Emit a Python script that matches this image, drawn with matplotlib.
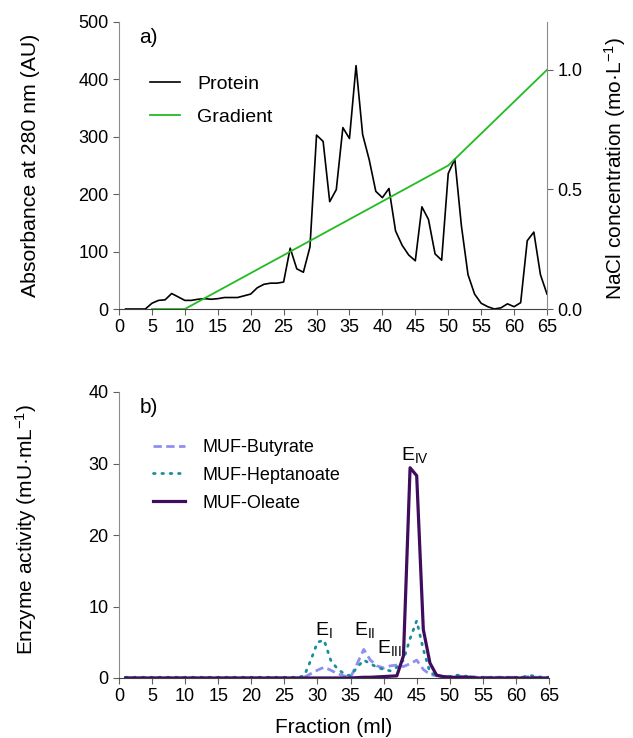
import matplotlib
matplotlib.use("Agg")
import matplotlib.pyplot as plt
import numpy as np

plt.rcParams["font.family"] = ["Liberation Sans", "DejaVu Sans"]
plt.rcParams["mathtext.default"] = "regular"

# ── Data ─────────────────────────────────────────────────────
fraction = np.arange(1, 66)

protein = [0, 0, 0, 0, 10, 15, 16, 27, 21, 15,
           15, 17, 18, 17, 18, 20, 20, 20, 23, 26,
           37, 43, 45, 45, 47, 106, 70, 64, 108, 303,
           292, 187, 208, 316, 297, 424, 304, 260, 205, 194,
           210, 136, 111, 94, 84, 178, 156, 96, 85, 236,
           261, 145, 60, 26, 10, 4, 0, 2, 9, 4,
           11, 119, 134, 60, 26]

grad_x = [5, 10, 50, 65]
grad_y = [0.0, 0.0, 0.6, 1.0]

butyrate = [0] * 27 + [0.1, 0.6, 1.1, 1.5, 1.1, 0.6, 0.3, 0.1,
                       2.0, 4.0, 2.5, 1.7, 1.4, 1.7, 1.8, 1.6, 2.0, 2.5,
                       1.2, 0.5, 0.3, 0.2, 0.2, 0.3, 0.2, 0.2, 0.1, 0.1,
                       0.1, 0.1, 0.1, 0.1, 0.1, 0.1, 0.2, 0.1, 0.1, 0.1]
heptanoate = [0.1] * 27 + [0.3, 2.5, 5.0, 5.3, 2.5, 1.3, 0.6, 0.3,
                           1.5, 2.5, 2.0, 1.5, 1.2, 1.0, 1.5, 2.5, 5.5, 8.0,
                           4.0, 0.8, 0.3, 0.2, 0.2, 0.4, 0.3, 0.2, 0.1, 0.1,
                           0.1, 0.1, 0.1, 0.1, 0.1, 0.1, 0.4, 0.2, 0.1, 0.1]
oleate = [0] * 35 + [0.05, 0.1, 0.1, 0.15, 0.2, 0.25, 0.3, 3.1, 29.4, 28.3,
                     6.8, 2.1, 0.4, 0.2, 0.1, 0.1, 0.1, 0.1, 0.0, 0.0,
                     0.0, 0.0, 0.0, 0.0, 0.0, 0.0, 0.0, 0.0, 0.0, 0.0]

peak_labels = ["E$_{I}$", "E$_{II}$", "E$_{III}$", "E$_{IV}$"]
peak_x = [31.0, 37.2, 40.8, 44.8]
peak_y = [6.05, 6.05, 3.5, 30.5]

xticks = np.arange(0, 66, 5)

# ── Style helpers ────────────────────────────────────────────
FS_TICK = 13
FS_LAB = 15
FS_LEG_A = 14
FS_LEG_B = 13
FS_PEAK = 14


def style_axes(ax):
    ax.spines["top"].set_visible(False)
    ax.spines["right"].set_visible(False)
    ax.spines["left"].set_color("#8c8c8c")
    ax.spines["bottom"].set_color("#404040")
    ax.tick_params(direction="out", labelsize=FS_TICK, length=4, width=0.8,
                   colors="#606060", labelcolor="black")
    ax.set_xlim(0, 65)
    ax.set_xticks(xticks)


fig = plt.figure(figsize=(6.33, 7.38), dpi=100)
W, H = 633, 738
ax1 = fig.add_axes([119 / W, 1 - 309 / H, 428 / W, 287 / H])
ax2 = fig.add_axes([119 / W, 1 - 678 / H, 430 / W, 286 / H])

# ── Panel a ─────────────────────────────────────────────────
style_axes(ax1)
l1, = ax1.plot(fraction, protein, color="black", lw=1.2, label="Protein")
ax1.set_ylim(0, 500)
ax1.set_yticks(range(0, 501, 100))
ax1.set_ylabel("Absorbance at 280 nm (AU)", fontsize=FS_LAB + 0.3)
ax1.yaxis.set_label_coords(-0.185, 0.5)

ax1r = ax1.twinx()
for s in ["top", "left", "bottom"]:
    ax1r.spines[s].set_visible(False)
ax1r.spines["right"].set_color("#8c8c8c")
l2, = ax1r.plot(grad_x, grad_y, color="#22bb22", lw=1.3, label="Gradient")
ax1r.set_ylim(0, 1.2)
ax1r.set_yticks([0.0, 0.5, 1.0])
ax1r.set_yticklabels(["0.0", "0.5", "1.0"])
ax1r.tick_params(direction="out", labelsize=FS_TICK, length=4, width=0.8,
                 colors="#606060", labelcolor="black")
ax1r.set_ylabel("NaCl concentration (mo·L$^{-1}$)", fontsize=FS_LAB)
ax1r.yaxis.set_label_coords(1.128, 0.49)

ax1.legend(handles=[l1, l2], loc="upper left", bbox_to_anchor=(0.072, 0.813),
           frameon=False, fontsize=FS_LEG_A, handlelength=1.55,
           handletextpad=0.9, labelspacing=0.77, borderpad=0,
           borderaxespad=0)
ax1.text(0.047, 0.98, "a)", transform=ax1.transAxes, fontsize=FS_LAB,
         va="top", ha="left")

# ── Panel b ─────────────────────────────────────────────────
style_axes(ax2)
ax2.plot(fraction, butyrate, color="#8f8ff2", lw=2.0, ls=(0, (3, 1.6)),
         label="MUF-Butyrate")
ax2.plot(fraction, heptanoate, color="#1a8f9c", lw=2.0, ls=(0, (0.6, 2.4)),
         dash_capstyle="round", label="MUF-Heptanoate")
ax2.plot(fraction, oleate, color="#3f0c5e", lw=2.3, label="MUF-Oleate")
ax2.set_ylim(0, 40)
ax2.set_yticks(range(0, 41, 10))
ax2.set_ylabel("Enzyme activity (mU·mL$^{-1}$)", fontsize=FS_LAB)
ax2.yaxis.set_label_coords(-0.185, 0.52)
ax2.set_xlabel("Fraction (ml)", fontsize=FS_LAB, labelpad=9)
ax2.legend(loc="upper left", bbox_to_anchor=(0.079, 0.836), frameon=False,
           fontsize=FS_LEG_B, handlelength=1.75, handletextpad=1.0,
           labelspacing=0.6, borderpad=0, borderaxespad=0)
ax2.text(0.049, 0.98, "b)", transform=ax2.transAxes, fontsize=FS_LAB,
         va="top", ha="left")

for lab, px, py in zip(peak_labels, peak_x, peak_y):
    ax2.text(px, py, lab, fontsize=FS_PEAK, ha="center", va="baseline")

fig.savefig("out.png", dpi=100, facecolor="white")
